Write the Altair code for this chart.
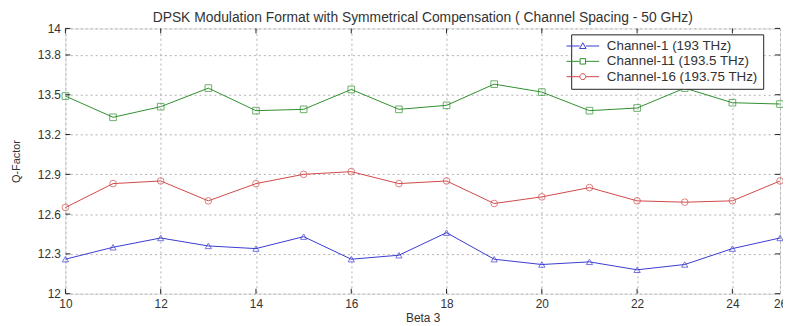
import altair as alt
import pandas as pd

beta = list(range(10, 26))
ch1 = [12.26, 12.35, 12.42, 12.36, 12.34, 12.43, 12.26, 12.29, 12.46, 12.26, 12.22, 12.24, 12.18, 12.22, 12.34, 12.42]
ch11 = [13.49, 13.33, 13.41, 13.55, 13.38, 13.39, 13.54, 13.39, 13.42, 13.58, 13.52, 13.38, 13.40, 13.55, 13.44, 13.43]
ch16 = [12.65, 12.83, 12.85, 12.70, 12.83, 12.90, 12.92, 12.83, 12.85, 12.68, 12.73, 12.80, 12.70, 12.69, 12.70, 12.85]
names = ["Channel-1 (193 THz)", "Channel-11 (193.5 THz)", "Channel-16 (193.75 THz)"]
colors = ["#3a3ad0", "#2f8f2f", "#d04848"]
x_ticks = [10, 12, 14, 16, 18, 20, 22, 24, 25]
y_ticks = [12, 12.3, 12.6, 12.9, 13.2, 13.5, 13.8, 14]

rows = []
for name, vals in zip(names, [ch1, ch11, ch16]):
    for b, v in zip(beta, vals):
        rows.append({"beta": b, "q": v, "series": name})
df = pd.DataFrame(rows)

W, H = 722, 268
FONT = "Liberation Sans"

xs = alt.Scale(domain=[10, 25], nice=False, zero=False)
ys = alt.Scale(domain=[12, 14], nice=False, zero=False)
cs = alt.Scale(domain=names, range=colors)

xaxis = alt.Axis(values=x_ticks, labelExpr="datum.value == 25 ? '26' : datum.label",
                 grid=True, gridDash=[2, 3], gridColor="#b0b0b0",
                 domain=False, ticks=False, labelPadding=5, labelOverlap=False,
                 labelFlush=False, labelBound=False,
                 labelFont=FONT, labelFontSize=12, labelColor="#333",
                 titleFont=FONT, titleFontSize=12, titleFontWeight="normal",
                 titleColor="#333", titlePadding=3)
yaxis = alt.Axis(values=y_ticks, format="~g", labelOverlap=False,
                 labelFlush=False, labelBound=False,
                 grid=True, gridDash=[2, 3], gridColor="#b0b0b0",
                 domain=False, ticks=False, labelPadding=5,
                 labelFont=FONT, labelFontSize=12, labelColor="#333",
                 titleFont=FONT, titleFontSize=11, titleFontWeight="normal",
                 titleColor="#333", titlePadding=16)


def X(field):
    return alt.X(field, scale=xs, axis=xaxis, title="Beta 3")


def Y(field):
    return alt.Y(field, scale=ys, axis=yaxis, title="Q-Factor")


base = alt.Chart(df)

lines = base.mark_line(strokeWidth=1).encode(
    x=X("beta:Q"), y=Y("q:Q"),
    color=alt.Color("series:N", scale=cs, title=None),
)

shape_marks = {"Channel-1 (193 THz)": ("triangle-up", 40),
               "Channel-11 (193.5 THz)": ("square", 45),
               "Channel-16 (193.75 THz)": ("circle", 45)}
point_layers = []
for name in names:
    shp, sz = shape_marks[name]
    point_layers.append(
        base.transform_filter(alt.datum.series == name)
        .mark_point(shape=shp, size=sz, filled=False, strokeWidth=1)
        .encode(x=X("beta:Q"), y=Y("q:Q"),
                color=alt.Color("series:N", scale=cs, title=None))
    )

line_part = "M-3.3,0H-0.65M0.65,0H3.3"
paths = [
    line_part + "M0,-0.65L0.65,0.5L-0.65,0.5Z",
    line_part + "M-0.55,-0.55H0.55V0.55H-0.55Z",
    line_part + "M-0.6,0a0.6,0.6 0 1,0 1.2,0a0.6,0.6 0 1,0 -1.2,0",
]
legend_layer = base.mark_point(filled=False, strokeWidth=1, opacity=0).encode(
    x=X("beta:Q"), y=Y("q:Q"),
    color=alt.Color("series:N", scale=cs, title=None),
    shape=alt.Shape("series:N", scale=alt.Scale(domain=names, range=paths), title=None),
)

# inward tick marks (matlab style)
xt = pd.DataFrame({"t": x_ticks[:-1]})
yt = pd.DataFrame({"t": y_ticks})
xtick_b = alt.Chart(xt).mark_rule(color="#222", strokeWidth=1).encode(
    x=X("t:Q"), y=alt.value(H), y2=alt.value(H - 5))
xtick_t = alt.Chart(xt).mark_rule(color="#222", strokeWidth=1).encode(
    x=X("t:Q"), y=alt.value(0), y2=alt.value(5))
ytick_l = alt.Chart(yt).mark_rule(color="#222", strokeWidth=1).encode(
    y=Y("t:Q"), x=alt.value(0), x2=alt.value(5))
ytick_r = alt.Chart(yt).mark_rule(color="#222", strokeWidth=1).encode(
    y=Y("t:Q"), x=alt.value(W), x2=alt.value(W - 5))

chart = alt.layer(lines, *point_layers, legend_layer, xtick_b, xtick_t, ytick_l, ytick_r).properties(
    width=W, height=H,
    title=alt.Title("DPSK Modulation Format with Symmetrical Compensation ( Channel Spacing - 50 GHz)",
                    font=FONT, fontSize=14, fontWeight="normal", color="#333", offset=-2),
    autosize=alt.AutoSizeParams(type="none"),
    padding={"left": 58, "top": 19, "right": 3, "bottom": 31},
).configure_view(stroke="#222", strokeWidth=1.2).configure(background="white").configure_legend(
    orient="none", legendX=511, legendY=6,
    strokeColor="#222", fillColor="white",
    padding=5, rowPadding=0.5, symbolSize=100,
    labelFont=FONT, labelFontSize=13.5, labelColor="#333",
    labelLimit=300, symbolStrokeWidth=1, labelOffset=17.5, symbolOpacity=1,
)

chart.save("out.html", embed_options={"renderer": "svg", "actions": False})
